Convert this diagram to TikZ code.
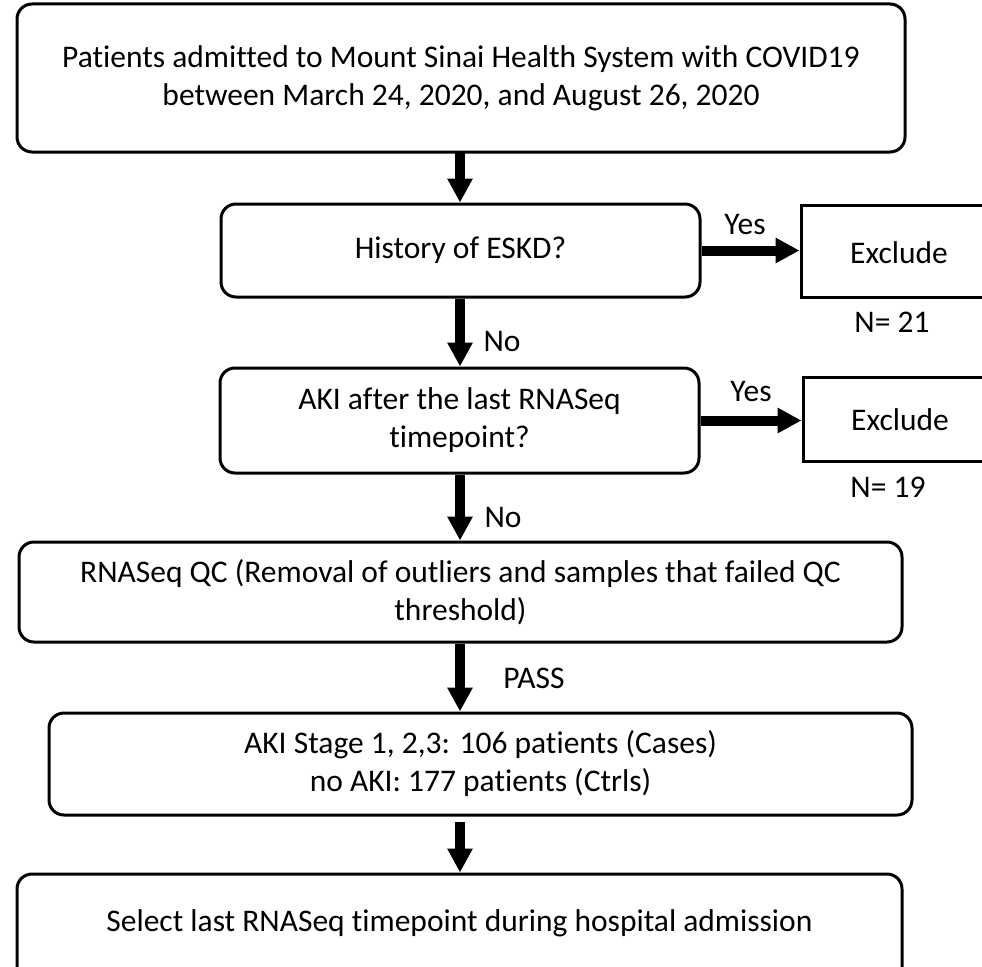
\documentclass[tikz,border=0pt]{standalone}
\usepackage{fontspec}
\setmainfont{Carlito}[Ligatures=NoCommon]
\usetikzlibrary{arrows.meta}
\begin{document}
\begin{tikzpicture}[x=1pt,y=-1pt,
  every node/.style={font=\fontsize{31.5}{38}\selectfont},
  rbox/.style={draw, line width=3pt, rounded corners=15pt, inner sep=0pt, align=center},
  sbox/.style={draw, line width=3pt, inner sep=0pt, align=center},
  arr/.style={line width=10pt, -{Triangle[length=24pt,width=24pt]}},
  lbl/.style={inner sep=0pt}]
\useasboundingbox (0,0) rectangle (982,966);
\clip (0,0) rectangle (982,966);
\fill[white] (0,0) rectangle (982,966);

\node[rbox, minimum width=888pt, minimum height=148pt] (top) at (461,78)
  {Patients admitted to Mount Sinai Health System with COVID19\\between March 24, 2020, and August 26, 2020};
\node[rbox, minimum width=479pt, minimum height=93pt] (hist) at (460.5,250.5) {History of ESKD?};
\node[sbox, minimum width=199pt, minimum height=92pt] (ex1) at (900.5,251) {};
\node[lbl] (ex1t) at (899,253) {Exclude};
\node[rbox, minimum width=479pt, minimum height=105pt] (aki) at (459.5,420.5)
  {AKI after the last RNASeq\\timepoint?};
\node[sbox, minimum width=197pt, minimum height=84pt] (ex2) at (901.5,419) {};
\node[lbl] (ex2t) at (900,420) {Exclude};
\node[rbox, minimum width=883pt, minimum height=100pt] (qc) at (460.5,592)
  {RNASeq QC (Removal of outliers and samples that failed QC\\threshold)};
\node[rbox, minimum width=863pt, minimum height=102pt] (stage) at (480.5,764)
  {AKI Stage 1, 2,3: 106 patients (Cases)\\no AKI: 177 patients (Ctrls)};
\node[rbox, minimum width=885pt, minimum height=130pt] (sel) at (459.5,939) {};
\node[lbl] (selt) at (459.5,923) {Select last RNASeq timepoint during hospital admission};

\node[lbl] (yes1) at (745,225) {Yes};
\node[lbl] (yes2) at (751,392) {Yes};
\node[lbl] (n21) at (892,322) {N= 21};
\node[lbl] (n19) at (888,487) {N= 19};
\node[lbl] (no1) at (502,341) {No};
\node[lbl] (no2) at (503,517) {No};
\node[lbl] (pass) at (534,678) {PASS};

\coordinate (a1s) at (460,152);
\coordinate (a5s) at (460,822);
\draw[arr] (a1s) -- (a1s |- hist.north);
\draw[arr] (hist.south -| a1s) -- (a1s |- aki.north);
\draw[arr] (aki.south -| a1s) -- (a1s |- qc.north);
\draw[arr] (qc.south -| a1s) -- (a1s |- stage.north);
\draw[arr] (a5s) -- (a5s |- sel.north);
\draw[arr] (hist.east) -- (hist.east -| ex1.west);
\draw[arr] (aki.east) -- (aki.east -| ex2.west);
\end{tikzpicture}
\end{document}
